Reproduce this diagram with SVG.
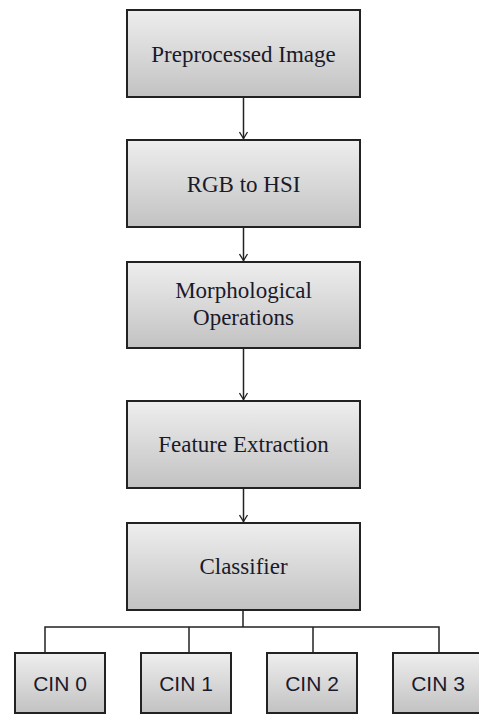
<svg xmlns="http://www.w3.org/2000/svg" width="479" height="715" viewBox="0 0 479 715">
<defs>
<linearGradient id="g" x1="0" y1="0" x2="0" y2="1">
<stop offset="0" stop-color="#eeeeee"/>
<stop offset="1" stop-color="#c2c2c2"/>
</linearGradient>
<marker id="arr" markerWidth="10" markerHeight="10" refX="9" refY="5" orient="auto" markerUnits="userSpaceOnUse" viewBox="0 0 10 10">
<path d="M2,1 L8.5,5 L2,9" fill="none" stroke="#222" stroke-width="1.3"/>
</marker>
</defs>
<style>
.box{fill:url(#g);stroke:#222;stroke-width:2}
.t{font-family:"Liberation Serif","Times New Roman",serif;font-size:23px;fill:#1a1a2a;text-anchor:middle}
.s{font-family:"Liberation Sans",Arial,sans-serif;font-size:21px;fill:#1a1a2a;text-anchor:middle}
.c{fill:none;stroke:#222;stroke-width:1.5}
</style>
<rect width="479" height="715" fill="#fff"/>
<g id="connectors">
<line class="c" x1="243.5" y1="97" x2="243.5" y2="139" marker-end="url(#arr)"/>
<line class="c" x1="243.5" y1="227" x2="243.5" y2="261" marker-end="url(#arr)"/>
<line class="c" x1="243.5" y1="348" x2="243.5" y2="400" marker-end="url(#arr)"/>
<line class="c" x1="243.5" y1="488" x2="243.5" y2="522" marker-end="url(#arr)"/>
<polyline class="c" points="243,610 243,627"/>
<polyline class="c" points="45,653 45,627 439,627 439,653"/>
<line class="c" x1="189" y1="627" x2="189" y2="653"/>
<line class="c" x1="313" y1="627" x2="313" y2="653"/>
</g>
<g id="preprocessed">
<rect class="box" x="127" y="10" width="233" height="87"/>
<text class="t" x="243.5" y="62">Preprocessed  Image</text>
</g>
<g id="rgb2hsi">
<rect class="box" x="127" y="140" width="233" height="87"/>
<text class="t" x="243.5" y="192">RGB to HSI</text>
</g>
<g id="morph">
<rect class="box" x="127" y="262" width="233" height="86"/>
<text class="t" x="243.5" y="298">Morphological</text>
<text class="t" x="243.5" y="325">Operations</text>
</g>
<g id="feature">
<rect class="box" x="127" y="401" width="233" height="87"/>
<text class="t" x="243.5" y="452">Feature Extraction</text>
</g>
<g id="classifier">
<rect class="box" x="127" y="523" width="233" height="87"/>
<text class="t" x="243.5" y="574">Classifier</text>
</g>
<g id="cin0">
<rect class="box" x="15" y="653" width="90" height="60"/>
<text class="s" x="60" y="691">CIN 0</text>
</g>
<g id="cin1">
<rect class="box" x="141" y="653" width="90" height="60"/>
<text class="s" x="186" y="691">CIN 1</text>
</g>
<g id="cin2">
<rect class="box" x="267" y="653" width="90" height="60"/>
<text class="s" x="312" y="691">CIN 2</text>
</g>
<g id="cin3">
<rect class="box" x="393" y="653" width="90" height="60"/>
<text class="s" x="438" y="691">CIN 3</text>
</g>
</svg>
